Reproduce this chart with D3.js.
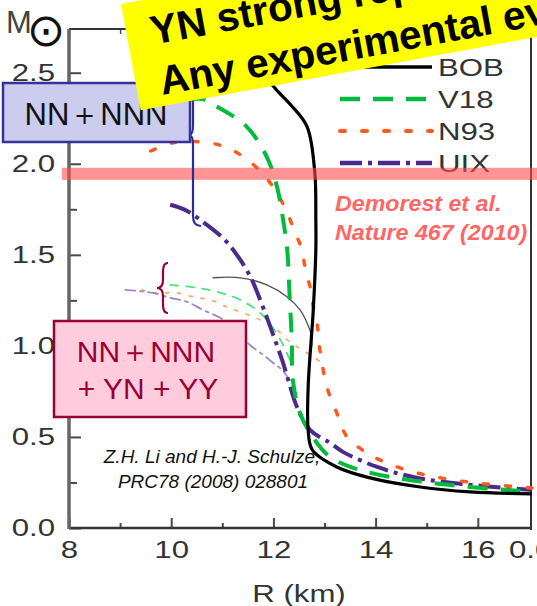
<!DOCTYPE html>
<html>
<head>
<meta charset="utf-8">
<script src="https://cdn.jsdelivr.net/npm/d3@7"></script>
<style>
  body { margin: 0; background: #fff; }
  svg { display: block; }
</style>
</head>
<body>
<svg id="chart" width="537" height="606"></svg>
<script>
// ---- tick values ----
const xTicks = [8, 10, 12, 14, 16];
const xMinorTicks = [9, 11, 13, 15];
const yTicks = [0, 0.5, 1.0, 1.5, 2.0, 2.5];
const yMinorTicks = [0.25, 0.75, 1.25, 1.75, 2.25];

// ---- nucleonic EOS: radius (km) and mass (solar masses) ----
const bobR = [11.0, 11.45, 11.8, 12.09, 12.35, 12.66, 12.81, 12.83, 12.83, 12.78, 12.68, 12.68, 12.76, 13.24, 13.89, 14.87, 15.85, 17.06];
const bobM = [2.47, 2.51, 2.48, 2.396, 2.32, 2.203, 1.951, 1.692, 1.527, 1.198, 0.775, 0.538, 0.429, 0.335, 0.275, 0.225, 0.198, 0.187];

const v18R = [9.7, 10.2, 10.6, 10.9, 11.48, 11.87, 12.07, 12.19, 12.27, 12.32, 12.36, 12.38, 12.52, 12.72, 13.11, 13.83, 15.12, 17.06];
const v18M = [2.27, 2.34, 2.355, 2.313, 2.203, 2.038, 1.874, 1.692, 1.527, 1.253, 1.033, 0.813, 0.632, 0.522, 0.390, 0.308, 0.247, 0.198];

const n93R = [9.6, 10.1, 10.52, 10.99, 11.44, 11.84, 12.09, 12.27, 12.42, 12.56, 12.62, 12.72, 12.78, 12.86, 12.89, 12.95, 13.01, 13.11, 13.24, 13.44, 13.83, 14.22, 14.81, 15.79, 17.06];
const n93M = [2.07, 2.12, 2.121, 2.099, 2.033, 1.929, 1.830, 1.731, 1.626, 1.527, 1.429, 1.319, 1.214, 1.115, 1.016, 0.912, 0.813, 0.720, 0.632, 0.500, 0.412, 0.357, 0.302, 0.253, 0.220];

const uixR = [9.98, 10.27, 10.62, 11.05, 11.35, 11.58, 11.74, 11.89, 12.03, 12.17, 12.29, 12.46, 12.72, 13.11, 13.36, 14.03, 14.73, 15.51, 17.06];
const uixM = [1.775, 1.747, 1.681, 1.582, 1.473, 1.363, 1.253, 1.143, 1.033, 0.923, 0.813, 0.665, 0.538, 0.467, 0.418, 0.335, 0.280, 0.247, 0.209];

// ---- with hyperons (YN + YY) ----
const bobHypR = [10.82, 11.35, 11.87, 12.27, 12.52, 12.66, 12.74, 12.75];
const bobHypM = [1.374, 1.374, 1.335, 1.269, 1.198, 1.126, 1.060, 1.0];

const v18HypR = [9.98, 10.5, 10.9, 11.35, 11.74, 11.99, 12.19, 12.32];
const v18HypM = [1.335, 1.319, 1.297, 1.253, 1.181, 1.099, 1.005, 0.923];

const n93HypR = [9.43, 9.64, 10.11, 10.43, 10.76, 11.09, 11.35, 11.74, 12.07, 12.27, 12.46, 12.72, 12.95];
const n93HypM = [1.308, 1.291, 1.291, 1.269, 1.253, 1.214, 1.187, 1.143, 1.088, 1.033, 0.995, 0.951, 0.907];

const uixHypR = [9.10, 9.33, 9.64, 9.98, 10.31, 10.62, 10.96, 11.25, 11.54, 11.80, 11.99, 12.17, 12.29];
const uixHypM = [1.308, 1.302, 1.291, 1.264, 1.242, 1.198, 1.154, 1.099, 1.005, 0.951, 0.907, 0.868, 0.824];

// ---- legend entries ----
const legendNames = ["BOB", "V18", "N93", "UIX"];

// ---- Demorest et al. pulsar mass band ----
const pulsarMass = 1.945;
const pulsarErr = 0.033;

const svg = d3.select("#chart");
svg.append("rect").attr("width", 537).attr("height", 606).attr("fill", "#fff");

const x = d3.scaleLinear().domain([8, 17.06]).range([69, 532]);
const y = d3.scaleLinear().domain([0, 2.74]).range([528, 29]);

const AX = "#4a4a4a";
const LABEL_FONT = "'Liberation Sans', Arial, sans-serif";
const STRETCH = 1.3;

// ---- frame and ticks ----
function styleAxis(g, w) {
  g.select(".domain").remove();
  g.selectAll(".tick line").attr("stroke", AX).attr("stroke-width", w);
}

const gx = svg.append("g").attr("transform", `translate(0,${y(0)})`)
  .call(d3.axisBottom(x).tickValues(xTicks).tickSize(-10).tickPadding(13).tickFormat(d3.format("d")));
styleAxis(gx, 2);
gx.selectAll("text")
  .attr("font-family", LABEL_FONT).attr("font-size", 24).attr("fill", "#333")
  .attr("transform", `scale(${STRETCH},1)`);

svg.append("g").attr("transform", `translate(0,${y(0)})`)
  .call(d3.axisBottom(x).tickValues(xMinorTicks).tickSize(-5).tickFormat(""))
  .call(g => styleAxis(g, 2));

// top frame ticks
svg.append("g").attr("transform", `translate(0,${y.range()[1]})`)
  .call(d3.axisTop(x).tickValues(xTicks).tickSize(-9).tickFormat(""))
  .call(g => styleAxis(g, 1.5));
svg.append("g").attr("transform", `translate(0,${y.range()[1]})`)
  .call(d3.axisTop(x).tickValues(xMinorTicks).tickSize(-5).tickFormat(""))
  .call(g => styleAxis(g, 1.5));

const gy = svg.append("g").attr("transform", `translate(${x(8)},0)`)
  .call(d3.axisLeft(y).tickValues(yTicks).tickSize(-12).tickPadding(14 / STRETCH).tickFormat(d3.format(".1f")));
styleAxis(gy, 2);
gy.selectAll("text")
  .attr("font-family", LABEL_FONT).attr("font-size", 24).attr("fill", "#333")
  .attr("transform", `scale(${STRETCH},1)`);

svg.append("g").attr("transform", `translate(${x(8)},0)`)
  .call(d3.axisLeft(y).tickValues(yMinorTicks).tickSize(-8).tickFormat(""))
  .call(g => styleAxis(g, 2));

// frame lines
svg.append("path")
  .attr("d", `M${x(8)},${y.range()[1]}H${x.range()[1] - 1}V${y(0) + 2}`)
  .attr("fill", "none").attr("stroke", "#333").attr("stroke-width", 2);
svg.append("line")
  .attr("x1", x(8)).attr("x2", x.range()[1]).attr("y1", y(0)).attr("y2", y(0))
  .attr("stroke", "#333").attr("stroke-width", 2.5);
svg.append("line")
  .attr("x1", x(8)).attr("x2", x(8)).attr("y1", y.range()[1]).attr("y2", y(0) + 1)
  .attr("stroke", "#666").attr("stroke-width", 3.5);

// label of the neighbouring panel, cut by the page edge
svg.append("text").attr("x", 509 / STRETCH).attr("y", 558)
  .attr("transform", `scale(${STRETCH},1)`)
  .attr("font-family", LABEL_FONT).attr("font-size", 24).attr("fill", "#333")
  .text("0.0");

// axis titles
svg.append("text").attr("x", 299 / STRETCH).attr("y", 602)
  .attr("transform", `scale(${STRETCH},1)`).attr("text-anchor", "middle")
  .attr("font-family", LABEL_FONT).attr("font-size", 24).attr("fill", "#333")
  .text("R (km)");

const mt = svg.append("text").attr("x", 6).attr("y", 33)
  .attr("font-family", LABEL_FONT).attr("font-size", 31).attr("fill", "#444");
mt.append("tspan").text("M");
mt.append("tspan").attr("font-family", "'DejaVu Sans', sans-serif").attr("font-size", 46)
  .attr("dx", -5).attr("dy", 13).attr("fill", "#111").text("⊙");

// ---- curves ----
const line = d3.line().x(d => x(d[0])).y(d => y(d[1])).curve(d3.curveCatmullRom.alpha(0.5));
const zip = (r, m) => r.map((v, i) => [v, m[i]]);

const styles = {
  BOB: { color: "#000000", dash: null, width: 3.2 },
  V18: { color: "#00bb3c", dash: "20,13", width: 4 },
  N93: { color: "#ff5a1e", dash: "5,17", width: 3.5 },
  UIX: { color: "#4b2a8c", dash: "22,6,4,6", width: 4 }
};

const hyp = [
  ["BOB", bobHypR, bobHypM, null, "#333", 1.3],
  ["V18", v18HypR, v18HypM, "8,8", "#33dd66", 1.8],
  ["N93", n93HypR, n93HypM, "3,9", "#ff9955", 1.8],
  ["UIX", uixHypR, uixHypM, "10,5,3,5", "#8877bb", 1.8]
];
hyp.forEach(([k, r, m, dash, col, w]) => {
  svg.append("path").attr("d", line(zip(r, m)))
    .attr("fill", "none").attr("stroke", col).attr("stroke-width", w)
    .attr("stroke-dasharray", dash).attr("stroke-linecap", "round").attr("opacity", 0.85);
});

const main = [["UIX", uixR, uixM], ["N93", n93R, n93M], ["V18", v18R, v18M], ["BOB", bobR, bobM]];
main.forEach(([k, r, m]) => {
  const s = styles[k];
  svg.append("path").attr("d", line(zip(r, m)))
    .attr("fill", "none").attr("stroke", s.color).attr("stroke-width", s.width)
    .attr("stroke-dasharray", s.dash).attr("stroke-linecap", k === "N93" ? "round" : "butt");
});

// ---- legend ----
const lg = svg.append("g");
legendNames.forEach((name, i) => {
  const s = styles[name];
  const ly = [67, 99, 131, 163][i];
  lg.append("line").attr("x1", 340).attr("x2", 432).attr("y1", ly).attr("y2", ly)
    .attr("stroke", s.color).attr("stroke-width", s.width + 0.5)
    .attr("stroke-dasharray", s.dash).attr("stroke-linecap", name === "N93" ? "round" : "butt");
  lg.append("text").attr("x", 438 / STRETCH).attr("y", ly + 9)
    .attr("transform", `scale(${STRETCH},1)`)
    .attr("font-family", LABEL_FONT).attr("font-size", 24).attr("fill", "#333")
    .text(name);
});

// ---- pulsar band ----
svg.append("rect")
  .attr("x", 62).attr("width", 537 - 62)
  .attr("y", y(pulsarMass + pulsarErr)).attr("height", y(pulsarMass - pulsarErr) - y(pulsarMass + pulsarErr))
  .attr("fill", "#ff4d4d").attr("opacity", 0.6);

const DEM_STRETCH = 1.08;
const dem = svg.append("g").attr("font-family", LABEL_FONT).attr("font-size", 21.5)
  .attr("font-style", "italic").attr("font-weight", "bold").attr("fill", "#ff6666")
  .attr("transform", `scale(${DEM_STRETCH},1)`);
dem.append("text").attr("x", 335 / DEM_STRETCH).attr("y", 211).text("Demorest et al.");
dem.append("text").attr("x", 335 / DEM_STRETCH).attr("y", 240).text("Nature 467 (2010)");

svg.append("g").attr("font-family", LABEL_FONT).attr("font-size", 19)
  .attr("font-style", "italic").attr("fill", "#111").attr("text-anchor", "middle")
  .call(g => {
    g.append("text").attr("x", 212).attr("y", 463).text("Z.H. Li and H.-J. Schulze,");
    g.append("text").attr("x", 213).attr("y", 488).text("PRC78 (2008) 028801");
  });

// ---- braces ----
function leftBrace(xs, y0, y1, w, tip) {
  const ym = (y0 + y1) / 2, r = Math.min(10, (y1 - y0) / 6);
  return `M${xs + w},${y0} Q${xs},${y0} ${xs},${y0 + r} L${xs},${ym - r} Q${xs},${ym} ${xs - tip},${ym}` +
         ` Q${xs},${ym} ${xs},${ym + r} L${xs},${y1 - r} Q${xs},${y1} ${xs + w},${y1}`;
}
svg.append("path").attr("d", leftBrace(193, 44, 226, 8, 4))
  .attr("fill", "none").attr("stroke", "#2b2b99").attr("stroke-width", 2.2);
svg.append("path").attr("d", leftBrace(163, 263, 313, 5, 6))
  .attr("fill", "none").attr("stroke", "#990033").attr("stroke-width", 2.2);

// ---- boxes ----
svg.append("rect").attr("x", 3).attr("y", 83).attr("width", 187).attr("height", 59)
  .attr("fill", "#ccccee").attr("stroke", "#333399").attr("stroke-width", 2.5);
svg.append("text").attr("x", 96).attr("y", 125).attr("text-anchor", "middle")
  .attr("font-family", LABEL_FONT).attr("font-size", 31).attr("fill", "#111")
  .text("NN＋NNN");

svg.append("rect").attr("x", 54).attr("y", 321).attr("width", 192).attr("height", 96)
  .attr("fill", "#ffccdd").attr("stroke", "#990033").attr("stroke-width", 2.5);
svg.append("g").attr("font-family", LABEL_FONT).attr("font-size", 30).attr("fill", "#990033")
  .attr("text-anchor", "middle")
  .call(g => {
    g.append("text").attr("x", 146).attr("y", 362).text("NN＋NNN");
    g.append("text").attr("x", 148).attr("y", 399).text("+ YN + YY");
  });

// ---- question banner ----
const banner = svg.append("g").attr("transform", "translate(121,4) rotate(-10.5)");
banner.append("rect").attr("x", 0).attr("y", 0).attr("width", 600).attr("height", 108).attr("fill", "#ffff00");
banner.append("g").attr("font-family", LABEL_FONT).attr("font-size", 40.5).attr("font-weight", "bold").attr("fill", "#000")
  .call(g => {
    g.append("text").attr("x", 24).attr("y", 46).text("YN strong repulsion?");
    g.append("text").attr("x", 24).attr("y", 97).text("Any experimental evidence?");
  });
</script>
</body>
</html>
